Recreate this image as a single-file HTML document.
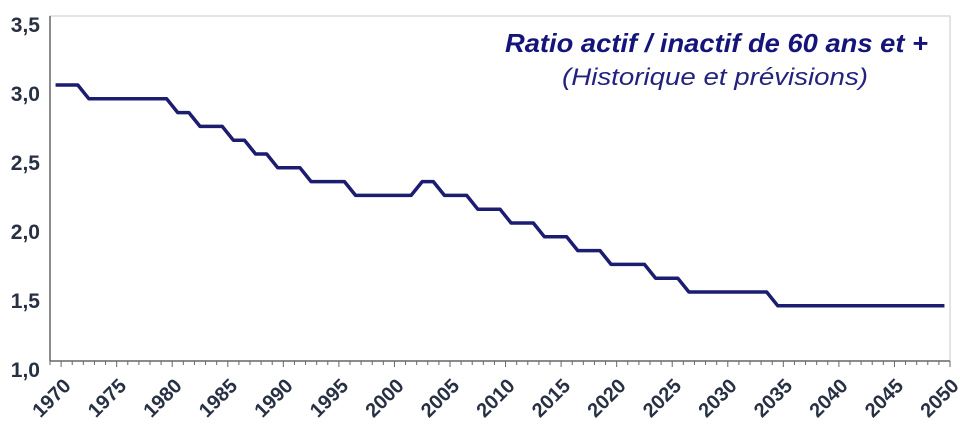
<!DOCTYPE html>
<html><head><meta charset="utf-8"><style>
html,body{margin:0;padding:0;background:#fff;}
svg{display:block;}
</style></head><body>
<svg width="960" height="438" viewBox="0 0 960 438" xmlns="http://www.w3.org/2000/svg">
<rect width="960" height="438" fill="#fff"/>
<rect x="50" y="16" width="900" height="345" fill="none" stroke="#c8c8c8" stroke-width="1"/>
<line x1="50" y1="16" x2="50" y2="361" stroke="#666" stroke-width="1.5"/>
<line x1="50" y1="361" x2="950" y2="361" stroke="#666" stroke-width="1.5"/>
<g id="ticks" stroke="#666" stroke-width="1"></g>
<g font-family="Liberation Sans, sans-serif" font-weight="bold" font-size="21" fill="#283044" text-anchor="end">
<text x="40" y="32">3,5</text>
<text x="40" y="101">3,0</text>
<text x="40" y="170">2,5</text>
<text x="40" y="239">2,0</text>
<text x="40" y="308">1,5</text>
<text x="40" y="377">1,0</text>
</g>
<g id="xl" font-family="Liberation Sans, sans-serif" font-weight="bold" font-size="20" fill="#283044" text-anchor="end"></g>
<polyline id="ln" fill="none" stroke="#1c1c70" stroke-width="3.5" stroke-linejoin="round"/>
<g font-family="Liberation Sans, sans-serif" font-style="italic" fill="#14147a">
<text x="505" y="52" font-size="26" font-weight="bold" textLength="423" lengthAdjust="spacingAndGlyphs">Ratio actif / inactif de 60 ans et +</text>
<text x="562" y="85" font-size="24" fill="#23237f" textLength="306" lengthAdjust="spacingAndGlyphs">(Historique et prévisions)</text>
</g>
<script>
var ns="http://www.w3.org/2000/svg";
var t=document.getElementById("ticks");
for(var i=0;i<=81;i++){var x=50+i*900/81;var l=document.createElementNS(ns,"line");l.setAttribute("x1",x);l.setAttribute("x2",x);l.setAttribute("y1",361);l.setAttribute("y2",(i%5==1)?367:365);t.appendChild(l);}
var xl=document.getElementById("xl");
for(var k=0;k<=16;k++){var x=72+k*55.5,y=387;var e=document.createElementNS(ns,"text");e.setAttribute("x",x);e.setAttribute("y",y);e.setAttribute("transform","rotate(-45 "+x+" "+y+")");e.textContent=1970+k*5;xl.appendChild(e);}
var segs=[[1970,1972,3.0],[1973,1980,2.9],[1981,1982,2.8],[1983,1985,2.7],[1986,1987,2.6],[1988,1989,2.5],[1990,1992,2.4],[1993,1996,2.3],[1997,2002,2.2],[2003,2004,2.3],[2005,2007,2.2],[2008,2010,2.1],[2011,2013,2.0],[2014,2016,1.9],[2017,2019,1.8],[2020,2023,1.7],[2024,2026,1.6],[2027,2034,1.5],[2035,2050,1.4]];
var pts=[];
function X(yr){return 50+900/81*(yr-1970+0.5);}
function Y(v){return 361-(v-1)*138;}
segs.forEach(function(s){pts.push(X(s[0])+","+Y(s[2]));pts.push(X(s[1])+","+Y(s[2]));});
document.getElementById("ln").setAttribute("points",pts.join(" "));
</script>
</svg>
</body></html>
